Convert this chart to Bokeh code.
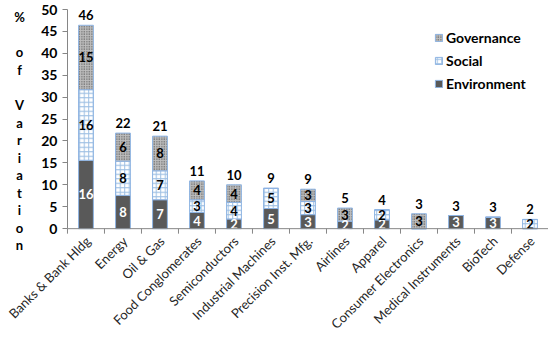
import numpy as np
from bokeh.plotting import figure
from bokeh.models import (ColumnDataSource, FixedTicker, Range1d, Legend,
                          LegendItem, Label)
from bokeh.core.properties import value
from bokeh.embed import file_html
from bokeh.resources import INLINE

categories = ["Banks & Bank Hldg", "Energy", "Oil & Gas", "Food Conglomerates",
              "Semiconductors", "Industrial Machines", "Precision Inst. Mfg.",
              "Airlines", "Apparel", "Consumer Electronics",
              "Medical Instruments", "BioTech", "Defense"]
environment = [15.6, 7.6, 6.6, 3.7, 2.2, 4.6, 3.2, 1.7, 2.0, 0.0, 3.0, 2.6, 0.0]
social = [16.1, 7.8, 6.6, 2.9, 3.8, 4.6, 3.0, 0.0, 2.3, 0.0, 0.0, 0.0, 2.1]
governance = [14.7, 6.4, 7.9, 4.3, 4.0, 0.0, 2.8, 3.0, 0.0, 3.4, 0.0, 0.0, 0.0]
y_ticks = list(range(0, 55, 5))
y_label_lines = ["%", "", "o", "f", "", "V", "a", "r", "i", "a", "t", "i",
                 "o", "n"]

FONT = "Lato"
n = len(categories)
xs = np.arange(n) + 0.5
env = np.array(environment)
soc = np.array(social)
gov = np.array(governance)
top1 = env
top2 = env + soc
tot = top2 + gov

src = ColumnDataSource(dict(x=xs, env_b=np.zeros(n), env_t=top1,
                            soc_b=top1, soc_t=top2, gov_b=top2, gov_t=tot))

p = figure(width=548, height=336, output_backend="svg", toolbar_location=None,
           x_range=Range1d(-1.81, n), y_range=Range1d(-24.6, 52.05),
           min_border=0)
p.outline_line_color = None
p.grid.visible = False
p.xaxis.visible = False

edge = "#8db3e2"
r_env = p.vbar(x="x", bottom="env_b", top="env_t", width=0.4, source=src,
               fill_color="#595959", line_color=edge, line_width=1)
r_soc = p.vbar(x="x", bottom="soc_b", top="soc_t", width=0.4, source=src,
               fill_color="white", line_color=edge, line_width=1,
               hatch_pattern="cross", hatch_color="#9dbfe3", hatch_scale=4.5,
               hatch_weight=1)
r_gov = p.vbar(x="x", bottom="gov_b", top="gov_t", width=0.4, source=src,
               fill_color="#bdbdbd", line_color=edge, line_width=1,
               hatch_pattern="dot", hatch_color="#404040", hatch_scale=2.5,
               hatch_weight=1)

def seg_labels(vals, bottoms, color):
    m = vals > 0
    s = ColumnDataSource(dict(x=xs[m], y=(bottoms + vals / 2)[m],
                              t=[f"{v:.0f}" for v in vals[m]]))
    p.text(x="x", y="y", text="t", source=s, text_align="center",
           text_baseline="middle", text_color=color,
           text_font=value(FONT), text_font_style="bold",
           text_font_size="13px")

seg_labels(env, np.zeros(n), "white")
seg_labels(soc, top1, "black")
seg_labels(gov, top2, "black")

tsrc = ColumnDataSource(dict(x=xs, y=tot, t=[f"{v:.0f}" for v in tot]))
p.text(x="x", y="y", text="t", source=tsrc, text_align="center",
       text_baseline="bottom", y_offset=-5, text_color="black",
       text_font=value(FONT), text_font_style="bold", text_font_size="13px")

# category axis: baseline, boundary ticks and rotated labels
p.segment(x0=[0], y0=[0], x1=[n], y1=[0], line_color="#868686", line_width=1)
p.ray(x=list(range(n + 1)), y=0, length=5, length_units="screen",
      angle=-np.pi / 2, line_color="#868686", line_width=1)
csrc = ColumnDataSource(dict(x=xs, y=np.zeros(n), t=categories))
p.text(x="x", y="y", text="t", source=csrc, angle=np.pi / 4,
       text_align="right", text_baseline="middle", x_offset=2, y_offset=10,
       text_color="#262626", text_font=value(FONT), text_font_size="13px")

# value axis, pinned at x = 0
yax = p.yaxis[0]
yax.fixed_location = 0
yax.bounds = (0, 50)
yax.ticker = FixedTicker(ticks=y_ticks)
yax.axis_line_color = "#868686"
yax.major_tick_line_color = "#868686"
yax.major_tick_out = 5
yax.major_tick_in = 0
yax.minor_tick_line_color = None
yax.major_label_text_font = FONT
yax.major_label_text_font_style = "bold"
yax.major_label_text_font_size = "14px"
yax.major_label_text_color = "black"

# upright, one-character-per-line value-axis title
for i, ch in enumerate(y_label_lines):
    if not ch:
        continue
    p.add_layout(Label(x=19, y=48.2 - 4 * i, x_units="screen", y_units="data",
                       text=ch, text_align="center", text_baseline="middle",
                       text_font=FONT, text_font_style="bold",
                       text_font_size="13px", text_color="black"))

legend = Legend(items=[LegendItem(label="Governance", renderers=[r_gov]),
                       LegendItem(label="Social", renderers=[r_soc]),
                       LegendItem(label="Environment", renderers=[r_env])],
                location=(434, 243), padding=0, spacing=3,
                glyph_width=9, glyph_height=9, label_height=20,
                label_standoff=3,
                label_text_font=FONT, label_text_font_style="bold",
                label_text_font_size="14px", label_text_color="black",
                border_line_color=None, background_fill_alpha=0)
p.add_layout(legend)

open("out.html", "w").write(file_html(p, INLINE))
